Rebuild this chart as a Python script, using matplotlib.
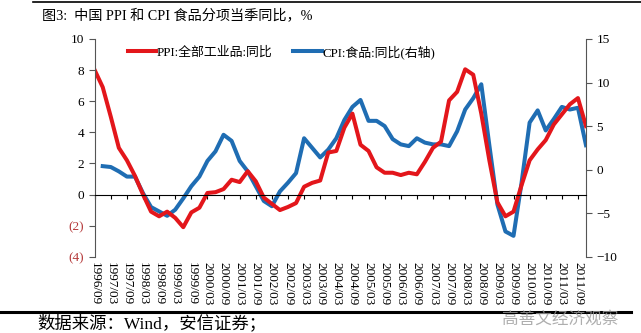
import numpy as np
import matplotlib
matplotlib.use("Agg")
import matplotlib.pyplot as plt
from matplotlib.lines import Line2D
from matplotlib.ticker import FuncFormatter

# quarterly data, 1996/09 .. 2011/12
quarters = [f"{1996 + (8 + 3 * k) // 12}/{(8 + 3 * k) % 12 + 1:02d}" for k in range(62)]

ppi = [8.0, 6.9, 5.0, 3.0, 2.2, 1.2, 0.0, -1.1, -1.4, -1.1,
       -1.5, -2.1, -1.15, -0.85, 0.1, 0.15, 0.35, 0.95, 0.8, 1.5,
       0.85, -0.2, -0.6, -1.0, -0.8, -0.55, 0.5, 0.75, 0.9, 2.7,
       2.8, 4.3, 5.2, 3.2, 2.8, 1.75, 1.4, 1.4, 1.25, 1.4,
       1.3, 2.1, 3.0, 3.4, 6.05, 6.6, 8.05, 7.7, 5.2, 2.2,
       -0.5, -1.4, -1.1, 0.6, 2.2, 2.9, 3.5, 4.5, 5.15, 5.8,
       6.2, 4.4]

cpi_food = [np.nan, 0.4, 0.3, -0.2, -0.8, -0.8, -2.7, -4.3, -4.8, -5.3,
            -4.6, -3.3, -1.9, -0.8, 1.0, 2.1, 4.0, 3.3, 1.0, -0.2,
            -1.9, -3.6, -4.2, -2.5, -1.5, -0.4, 3.6, 2.5, 1.4, 2.3,
            3.6, 5.7, 7.2, 8.0, 5.6, 5.6, 5.0, 3.5, 2.9, 2.7,
            3.6, 3.1, 2.9, 2.9, 2.7, 4.4, 6.9, 8.2, 9.8, 2.8,
            -4.0, -7.1, -7.6, -1.5, 5.4, 6.8, 4.5, 5.8, 7.2, 6.9,
            7.1, 2.8]

RED = "#e3161b"
BLUE = "#1f6db3"
SERIF = ["Liberation Serif", "Noto Sans CJK SC"]

x = np.arange(len(quarters))

fig = plt.figure(figsize=(6.41, 3.33), dpi=100)
ax = fig.add_axes([0.1477, 0.229, 0.9142 - 0.1477, 0.883 - 0.229])
ax2 = ax.twinx()

l1, = ax.plot(x, ppi, color=RED, lw=2.9, solid_joinstyle="round")
l2, = ax2.plot(x, cpi_food, color=BLUE, lw=2.9, solid_joinstyle="round")
ax.set_zorder(ax2.get_zorder() + 1)
ax.patch.set_visible(False)

ax.set_xlim(0, 61)
ax.set_ylim(-4, 10)
ax2.set_ylim(-10, 15)
ax.set_yticks(range(-4, 11, 2))
ax2.set_yticks(range(-10, 16, 5))

ax.yaxis.set_major_formatter(FuncFormatter(lambda v, p: f"({abs(int(v))})" if v < 0 else f"{int(v)}"))
for lab, v in zip(ax.get_yticklabels(), range(-4, 11, 2)):
    if v < 0:
        lab.set_color("#b5393a")

for a in (ax, ax2):
    a.spines["top"].set_visible(False)
    for s in a.spines.values():
        s.set_color("#555555")
        s.set_linewidth(0.8)
    a.tick_params(axis="y", direction="out", length=4, width=0.8, color="#555555", labelsize=9.5)
    for lab in a.get_yticklabels():
        lab.set_family(SERIF)

ax2.spines["left"].set_visible(False)
ax.spines["right"].set_visible(False)
ax2.spines["bottom"].set_visible(False)

# zero line with ticks, labels at the bottom
ax.spines["bottom"].set_position(("data", 0))
ax.spines["bottom"].set_color("black")
ax.set_xticks(x[::2])
ax.tick_params(axis="x", direction="out", length=3, width=0.8, labelbottom=False)
ax2.tick_params(axis="x", length=0, labelbottom=False)

sec = ax.secondary_xaxis("bottom")
sec.set_xticks(x[::2], [quarters[i] for i in x[::2]], rotation=270,
               family=SERIF, fontsize=9.5)
sec.tick_params(length=0, pad=4)
sec.spines["bottom"].set_visible(False)

leg = ax.legend([l1, l2], ["PPI:全部工业品:同比", "CPI:食品:同比(右轴)"],
                loc="center", bbox_to_anchor=(0.38, 0.94), ncol=2,
                frameon=False, handlelength=2.2, columnspacing=1.6,
                handletextpad=0.05, prop={"family": SERIF, "size": 9.3})

fig.text(0.066, 0.952, "图3:  中国 PPI 和 CPI 食品分项当季同比，%", family=SERIF,
         fontsize=10.2, va="center", ha="left")
fig.text(0.058, 0.03, "数据来源：Wind，安信证券；", family=SERIF,
         fontsize=12.5, va="center", ha="left")
fig.text(0.965, 0.04, "高善文经济观察", family=["Noto Sans CJK SC"],
         fontsize=12, color="#9a9a9a", va="center", ha="right", alpha=0.8)

fig.add_artist(Line2D([0.051, 1.0], [0.994, 0.994], transform=fig.transFigure,
                      color="black", lw=1.2))
fig.add_artist(Line2D([0.0, 0.985], [0.063, 0.063], transform=fig.transFigure,
                      color="black", lw=2.2))

fig.savefig("out.png", dpi=100)
